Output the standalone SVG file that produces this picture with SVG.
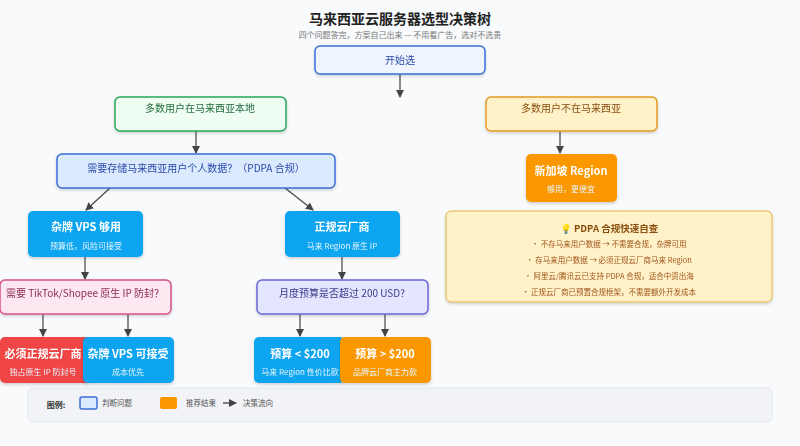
<svg xmlns="http://www.w3.org/2000/svg" width="800" height="446" viewBox="0 0 800 446">
<style>
text{font-family:"Noto Sans CJK SC","Noto Sans",sans-serif;text-anchor:middle}
.q{fill:#dbeafe;stroke:#3b6fd6;stroke-width:1.5}
.b{fill:#0ea5f0;}
.o{fill:#fb9800;}
.t{font-size:10px}
.h{font-size:11px;font-weight:bold;fill:#fff}
.s{font-size:8px;fill:#e6f5ff}
.c line{stroke:#444;stroke-width:1.2;marker-end:url(#a)}
</style>
<defs>
<marker id="a" markerWidth="8" markerHeight="8" refX="7" refY="4" orient="auto" markerUnits="userSpaceOnUse"><path d="M0,0L8,4L0,8z" fill="#444"/></marker>
<filter id="sh" x="-10%" y="-10%" width="120%" height="130%"><feDropShadow dx="0" dy="1.5" stdDeviation="1.5" flood-opacity="0.18"/></filter>
</defs>
<rect width="800" height="446" fill="#f8fafc"/>
<text x="400" y="24" font-size="14" font-weight="bold" fill="#222">马来西亚云服务器选型决策树</text>
<text x="400" y="38" font-size="8" fill="#777">四个问题答完，方案自己出来 — 不用看广告，选对不选贵</text>
<g class="c">
<line x1="400" y1="74" x2="400" y2="97"/>
<line x1="196" y1="131" x2="196" y2="153"/>
<line x1="560" y1="131" x2="560" y2="153"/>
<line x1="110" y1="188" x2="86" y2="210"/>
<line x1="285" y1="188" x2="313" y2="210"/>
<line x1="85" y1="257" x2="85" y2="279"/>
<line x1="342" y1="257" x2="342" y2="279"/>
<line x1="43" y1="314" x2="43" y2="336"/>
<line x1="128" y1="314" x2="128" y2="336"/>
<line x1="300" y1="314" x2="300" y2="336"/>
<line x1="385" y1="314" x2="385" y2="336"/>
</g>
<g id="start" filter="url(#sh)"><rect x="315" y="46" width="170" height="28" rx="5" fill="#eef5ff" stroke="#3b6fd6" stroke-width="1.5"/><text x="400" y="64" class="t" fill="#2a4aa8">开始选</text></g>
<g id="local" filter="url(#sh)"><rect x="115" y="97" width="171" height="34" rx="5" fill="#effdf3" stroke="#2aa55a" stroke-width="1.5"/><text x="200" y="112" class="t" fill="#236b3c">多数用户在马来西亚本地</text></g>
<g id="nonlocal" filter="url(#sh)"><rect x="486" y="97" width="171" height="34" rx="5" fill="#fff1c8" stroke="#e59a22" stroke-width="1.5"/><text x="571" y="112" class="t" fill="#8a4f10">多数用户不在马来西亚</text></g>
<g id="pdpaq" filter="url(#sh)"><rect x="57" y="154" width="278" height="34" rx="5" class="q"/><text x="196" y="172" class="t" fill="#2a4aa8">需要存储马来西亚用户个人数据？（PDPA 合规）</text></g>
<g id="sg" filter="url(#sh)"><rect x="526" y="154" width="91" height="48" rx="5" class="o"/><text x="571" y="175" class="h">新加坡 Region</text><text x="571" y="192" class="s" fill="#fff4e0">够用，更便宜</text></g>
<g id="vps" filter="url(#sh)"><rect x="28" y="211" width="115" height="46" rx="5" class="b"/><text x="86" y="231" class="h">杂牌 VPS 够用</text><text x="86" y="249" class="s">预算低，风险可接受</text></g>
<g id="cloud" filter="url(#sh)"><rect x="285" y="211" width="115" height="46" rx="5" class="b"/><text x="342" y="231" class="h">正规云厂商</text><text x="342" y="249" class="s">马来 Region 原生 IP</text></g>
<g id="tiktok" filter="url(#sh)"><rect x="0" y="280" width="171" height="34" rx="5" fill="#fde7f1" stroke="#d9508a" stroke-width="1.5"/><text x="85" y="297" class="t" fill="#8a2a55">需要 TikTok/Shopee 原生 IP 防封？</text></g>
<g id="budget" filter="url(#sh)"><rect x="257" y="280" width="171" height="34" rx="5" fill="#e4e6ff" stroke="#6a66d8" stroke-width="1.5"/><text x="342" y="297" class="t" fill="#3b3a8a">月度预算是否超过 200 USD?</text></g>
<g id="must" filter="url(#sh)"><rect x="0" y="337" width="90" height="46" rx="5" fill="#ef4444"/><text x="43" y="358" class="h">必须正规云厂商</text><text x="43" y="375" class="s" fill="#ffe4e4">独占原生 IP 防封号</text></g>
<g id="vps2" filter="url(#sh)"><rect x="83" y="337" width="91" height="46" rx="5" class="b"/><text x="128" y="358" class="h">杂牌 VPS 可接受</text><text x="128" y="375" class="s">成本优先</text></g>
<g id="lt" filter="url(#sh)"><rect x="254" y="337" width="91" height="46" rx="5" class="b"/><text x="300" y="358" class="h">预算 &lt; $200</text><text x="300" y="375" class="s">马来 Region 性价比款</text></g>
<g id="gt" filter="url(#sh)"><rect x="340" y="337" width="91" height="46" rx="5" class="o"/><text x="385" y="358" class="h">预算 &gt; $200</text><text x="385" y="375" class="s" fill="#fff4e0">品牌云厂商主力款</text></g>
<g id="tips" filter="url(#sh)"><rect x="446" y="211" width="326" height="91" rx="5" fill="#fff1c8" stroke="#e5b54a" stroke-width="1"/>
<text x="609" y="232" font-size="9.5" font-weight="bold" fill="#8a4f10">💡 PDPA 合规快速自查</text>
<text x="609" y="247" font-size="7.5" fill="#a0541a">• 不存马来用户数据 → 不需要合规，杂牌可用</text>
<text x="609" y="263" font-size="7.5" fill="#a0541a">• 存马来用户数据 → 必须正规云厂商马来 Region</text>
<text x="609" y="279" font-size="7.5" fill="#a0541a">• 阿里云/腾讯云已支持 PDPA 合规，适合中资出海</text>
<text x="609" y="295" font-size="7.5" fill="#a0541a">• 正规云厂商已预置合规框架，不需要额外开发成本</text></g>
<g id="legend"><rect x="28" y="388" width="744" height="34" rx="5" fill="#f1f3f6" stroke="#e2e5ea"/>
<text x="56" y="408" font-size="8" font-weight="bold" fill="#333">图例:</text>
<rect x="80" y="397" width="17" height="12" rx="2" class="q"/><text x="117" y="406" font-size="7.5" fill="#555">判断问题</text>
<rect x="160" y="397" width="17" height="12" rx="2" class="o"/><text x="201" y="406" font-size="7.5" fill="#555">推荐结果</text>
<line x1="223" y1="403" x2="236" y2="403" stroke="#333" stroke-width="1.2" marker-end="url(#a)"/><text x="258" y="406" font-size="7.5" fill="#555">决策流向</text></g>
</svg>
